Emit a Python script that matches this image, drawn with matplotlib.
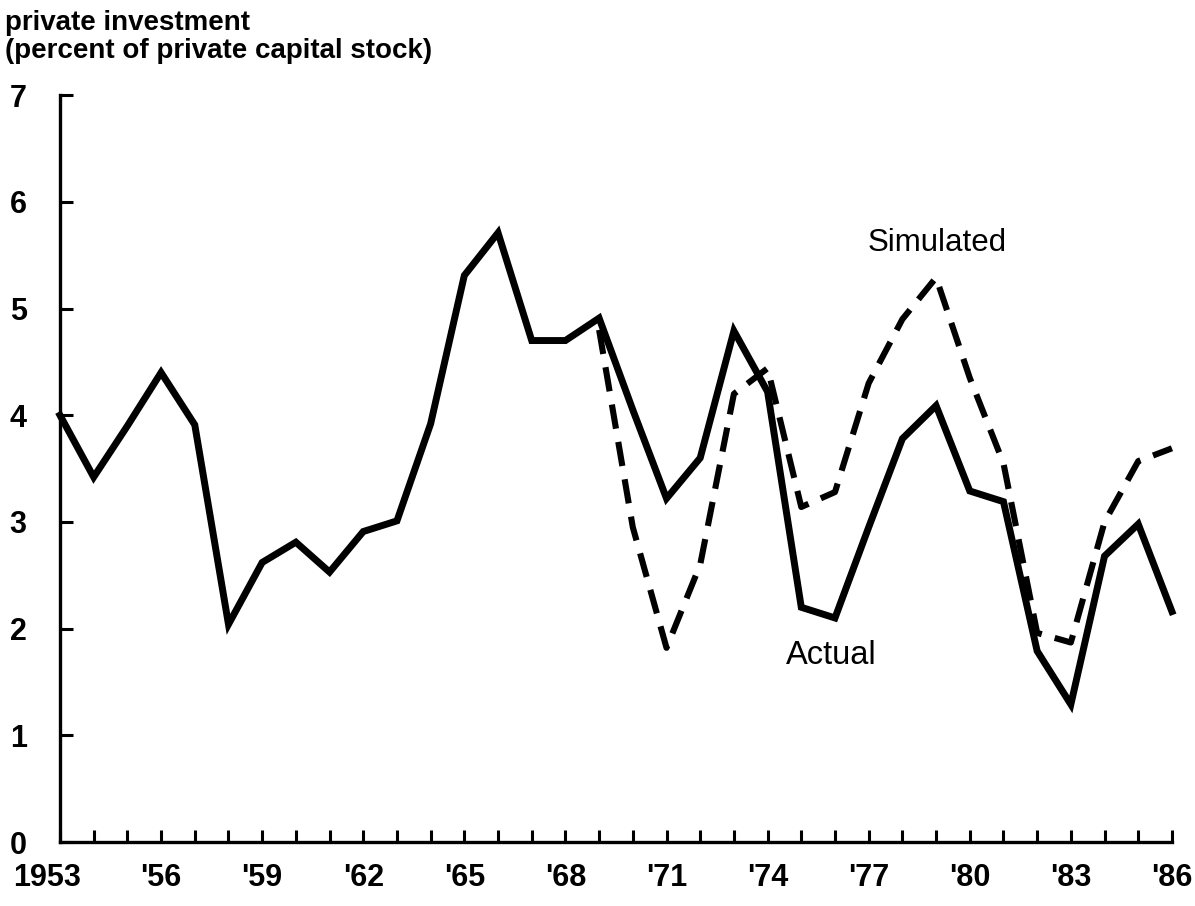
import numpy as np
import matplotlib
matplotlib.use('Agg')
import matplotlib.pyplot as plt
import matplotlib.transforms as mtransforms

plt.rcParams['font.family'] = ['Liberation Sans', 'DejaVu Sans']

# 数据
years = list(range(1953, 1987))
actual = [4.0, 3.42, 3.9, 4.4, 3.91, 2.04, 2.62, 2.81, 2.53, 2.91, 3.01,
          3.92, 5.31, 5.71, 4.7, 4.7, 4.91, 4.05, 3.22, 3.6, 4.79, 4.22,
          2.2, 2.1, 2.95, 3.78, 4.09, 3.29, 3.19, 1.79, 1.29, 2.68, 2.98, 2.16]
sim_years = list(range(1969, 1987))
simulated = [4.8, 2.95, 1.82, 2.6, 4.2, 4.44, 3.14, 3.28, 4.3, 4.9, 5.29,
             4.35, 3.55, 1.96, 1.87, 3.0, 3.57, 3.69]
label_years = [1953, 1956, 1959, 1962, 1965, 1968, 1971, 1974, 1977, 1980, 1983, 1986]
label_text = ['1953', "'56", "'59", "'62", "'65", "'68", "'71", "'74", "'77", "'80", "'83", "'86"]

fig = plt.figure(figsize=(11.95, 9.06), dpi=100)
ax = fig.add_axes([0.0502, 0.0706, 0.9305, 0.8244])

ax.plot(years, actual, color='black', lw=5.0, solid_joinstyle='miter', clip_on=False, zorder=3)
ax.plot(sim_years, simulated, color='black', lw=4.4, dashes=(4.0, 2.2), clip_on=False, zorder=3)

ax.set_xlim(1953, 1986)
ax.set_ylim(0, 7)

for s in ['top', 'right']:
    ax.spines[s].set_visible(False)
for s in ['left', 'bottom']:
    ax.spines[s].set_linewidth(2.4)

ax.set_xticks(years)
ax.set_xticklabels([label_text[label_years.index(y)] if y in label_years else '' for y in years])
ax.set_yticks(range(0, 8))
ax.tick_params(axis='both', direction='in', length=9, width=2.2, labelsize=22)
ax.tick_params(axis='x', pad=15)
ax.tick_params(axis='y', pad=24)
for lab in ax.get_xticklabels() + ax.get_yticklabels():
    lab.set_fontweight('bold')

# 第一个年份标签稍微左移
first = ax.get_xticklabels()[0]
first.set_transform(first.get_transform() + mtransforms.ScaledTranslation(-13 / 100, 0, fig.dpi_scale_trans))

ax.text(1976.98, 5.54, 'Simulated', fontsize=22.5, va='baseline', ha='left')
ax.text(1974.54, 1.665, 'Actual', fontsize=23.5, va='baseline', ha='left')

fig.text(0.004, 0.989, 'private investment\n(percent of private capital stock)',
         fontsize=20, fontweight='bold', va='top', ha='left', linespacing=1.12)

fig.savefig('out.png', dpi=100)
